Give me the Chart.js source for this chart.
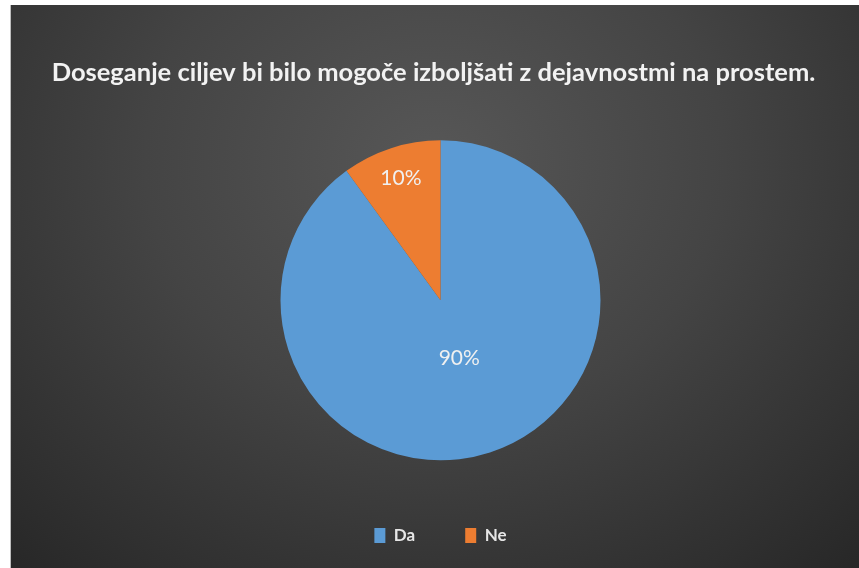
<!DOCTYPE html>
<html>
<head>
<meta charset="utf-8">
<script src="https://cdn.jsdelivr.net/npm/chart.js@4/dist/chart.umd.min.js"></script>
<style>
  html, body { margin: 0; padding: 0; background: #ffffff; width: 859px; height: 568px; overflow: hidden; }
  #panel { position: absolute; left: 10px; top: 5px; width: 849px; height: 563px; border-left: 1px solid #bdbdbd; box-sizing: border-box; }
  canvas { display: block; }
</style>
</head>
<body>
<div id="panel"><canvas id="chart" width="848" height="563"></canvas></div>
<script>
// Survey answers and their shares (percent)
const categories = ['Da', 'Ne'];
const shares = [90, 10];
const sliceColors = ['#5b9bd5', '#ed7d31'];
const chartTitle = 'Doseganje ciljev bi bilo mogoče izboljšati z dejavnostmi na prostem.';

// Dark, softly lit backdrop behind the whole chart
const backdrop = {
  id: 'backdrop',
  beforeDraw(chart) {
    const { ctx, width, height } = chart;
    ctx.save();
    ctx.translate(width * 0.5, height * 0.28);
    ctx.scale(1.15, 1);
    const g = ctx.createRadialGradient(0, 0, 0, 0, 0, 560);
    g.addColorStop(0, '#575757');
    g.addColorStop(0.45, '#444444');
    g.addColorStop(1, '#262626');
    ctx.fillStyle = g;
    ctx.fillRect(-width, -height, width * 3, height * 3);
    ctx.restore();
  }
};

// Shift the title block slightly left of the plot centre
const titleNudge = {
  id: 'titleNudge',
  afterLayout(chart, args, opts) {
    const t = chart.titleBlock;
    if (t) { t.left += opts.dx; t.right += opts.dx; }
  }
};

// Percentage labels inside each slice
const sliceLabels = {
  id: 'sliceLabels',
  afterDatasetsDraw(chart, args, opts) {
    const { ctx } = chart;
    const meta = chart.getDatasetMeta(0);
    const total = shares.reduce((a, b) => a + b, 0);
    ctx.save();
    ctx.font = opts.font;
    ctx.fillStyle = opts.color;
    ctx.textAlign = 'center';
    ctx.textBaseline = 'middle';
    meta.data.forEach((arc, i) => {
      const p = arc.getProps(['x', 'y', 'startAngle', 'endAngle', 'outerRadius'], true);
      const mid = (p.startAngle + p.endAngle) / 2;
      const r = p.outerRadius * opts.radial[i];
      const txt = Math.round(shares[i] / total * 100) + '%';
      ctx.fillText(txt, p.x + Math.cos(mid) * r, p.y + Math.sin(mid) * r);
    });
    ctx.restore();
  }
};

new Chart(document.getElementById('chart'), {
  type: 'pie',
  data: {
    labels: categories,
    datasets: [{
      data: shares,
      backgroundColor: sliceColors,
      borderWidth: 0,
      radius: 160
    }]
  },
  options: {
    responsive: false,
    animation: false,
    layout: { padding: { left: 11, right: 0, top: 0, bottom: 14 } },
    plugins: {
      title: {
        display: true,
        text: chartTitle,
        color: '#f2f2f2',
        font: { family: 'Lato', size: 25.5, weight: 'bold' },
        padding: { top: 52, bottom: 36 }
      },
      legend: {
        position: 'bottom',
        labels: {
          color: '#e6e6e6',
          font: { family: 'Lato', size: 17, weight: 'bold' },
          boxWidth: 11,
          boxHeight: 15,
          padding: 50
        }
      },
      tooltip: { enabled: false },
      titleNudge: { dx: -7 },
      sliceLabels: {
        font: '21px Lato',
        color: '#f0f0f0',
        radial: [0.38, 0.8]
      }
    }
  },
  plugins: [backdrop, titleNudge, sliceLabels]
});
</script>
</body>
</html>
